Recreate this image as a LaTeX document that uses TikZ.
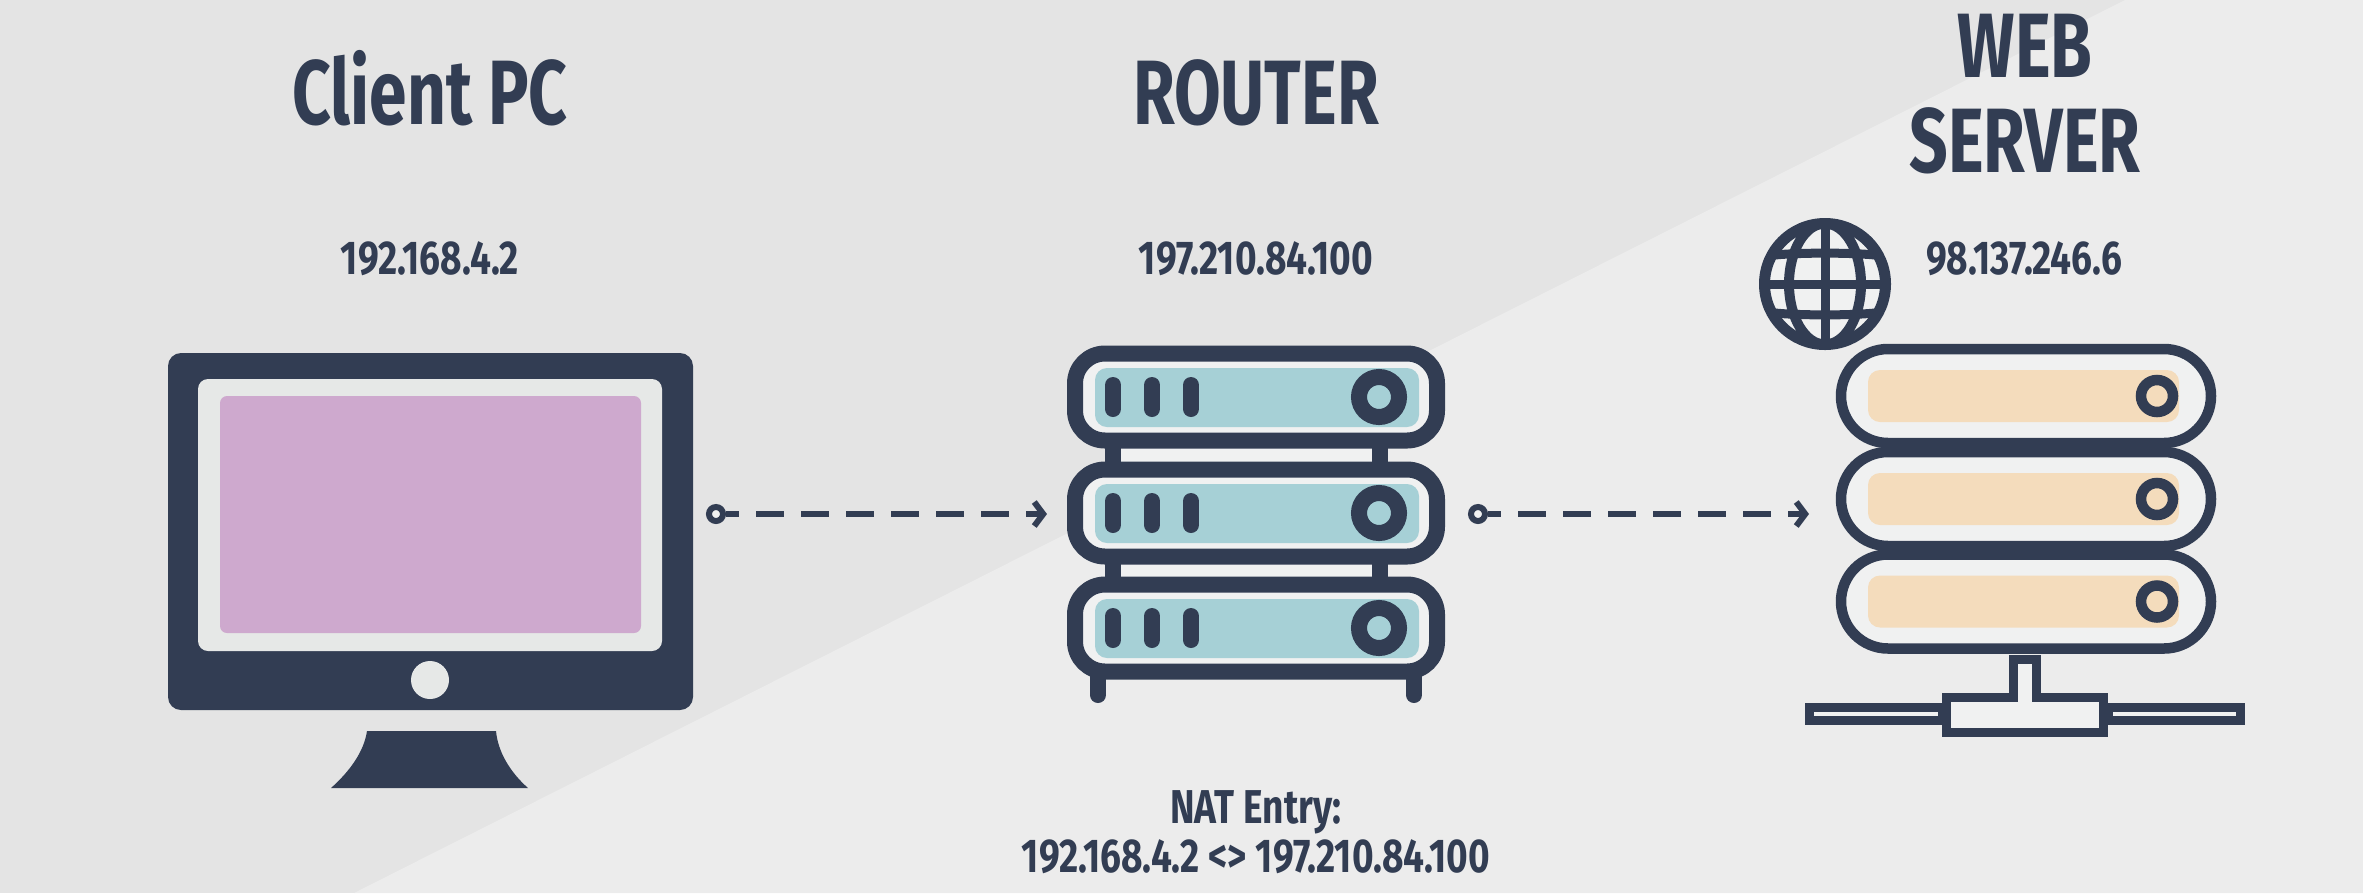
\documentclass[tikz,border=0pt]{standalone}
\usepackage{fontspec}
\usetikzlibrary{arrows.meta}
\newfontfamily\labelfont{Fira Sans}[FakeStretch=0.74]
\newfontfamily\addrfont{Fira Sans}[FakeStretch=0.78]
\definecolor{navy}{HTML}{323D53}
\definecolor{bgdark}{HTML}{E4E4E4}
\definecolor{bglight}{HTML}{ECECEC}
\definecolor{panel}{HTML}{F0F1F1}
\definecolor{bezel}{HTML}{E6E8E7}
\definecolor{teal}{HTML}{A6D0D6}
\definecolor{sand}{HTML}{F4DCBC}
\definecolor{pink}{HTML}{CEA9CE}

\begin{document}
\begin{tikzpicture}[
            x=0.01cm, y=-0.01cm,
            title/.style={font=\labelfont\bfseries\fontsize{26}{27}\selectfont, text=navy, align=center, inner sep=0pt},
            addr/.style={font=\addrfont\bfseries\fontsize{13.5}{14}\selectfont, text=navy, align=center, inner sep=0pt},
            rack/.style={draw=navy, fill=panel, line width=0.16cm, rounded corners=0.3cm},
            pod/.style={draw=navy, fill=panel, line width=0.105cm, rounded corners=0.47cm},
            lamp/.style={line width=0.16cm, line cap=round, draw=navy},
            wire/.style={draw=navy, line width=0.06cm, dash pattern=on 0.28cm off 0.17cm, dash phase=0.15cm, -{Straight Barb[length=0.09cm, width=0.24cm, line width=0.06cm]}},
            dot/.style={circle, draw=navy, fill=panel, line width=0.06cm, minimum size=0.14cm, inner sep=0pt}
        ]
            \useasboundingbox (0,0) rectangle (2363,893);
            \fill[bgdark] (0,0) rectangle (2363,893);
            \fill[bglight] (2125,0) -- (2363,0) -- (2363,893) -- (354,893) -- cycle;

            \node[title] (clientname) at (430,88) {Client PC};
            \node[title] (routername) at (1256,93) {ROUTER};
            \node[title] (servername) at (2025,94) {WEB\\SERVER};
            \node[addr] (clientip) at (430,259) {192.168.4.2};
            \node[addr] (routerip) at (1256,259) {197.210.84.100};
            \node[addr] (serverip) at (2024,259) {98.137.246.6};
            \node[addr] (natentry) at (1256,832) {NAT Entry:\\192.168.4.2 <> 197.210.84.100};

            \fill[navy, rounded corners=0.13cm] (168,353) rectangle (693,710);
            \fill[bezel, rounded corners=0.1cm] (198,379) rectangle (662,651);
            \fill[pink, rounded corners=0.07cm] (220,396) rectangle (641,633);
            \fill[bezel] (430,680) ellipse (19 and 19);
            \fill[navy] (367,731) -- (496,731) .. controls (498,752) and (510,772) .. (528,788)
                -- (331,788) .. controls (349,772) and (364,752) .. (367,731) -- cycle;

            \fill[panel] (1113,440) rectangle (1380,585);
            \draw[navy, line width=0.16cm] (1113,440) -- (1113,585);
            \draw[navy, line width=0.16cm] (1380,440) -- (1380,585);
            \draw[lamp] (1098,671) -- (1098,695);
            \draw[lamp] (1414,671) -- (1414,695);
            \foreach \y in {397,513,628} {
                \draw[rack] (1075,\y-43.5) rectangle (1437,\y+43.5);
                \fill[teal, rounded corners=0.12cm] (1095,\y-29) rectangle (1419,\y+30);
                \foreach \x in {1113,1152,1191}
                    \draw[lamp] (\x,\y-12) -- (\x,\y+12);
                \draw[navy, fill=teal, line width=0.16cm] (1379,\y) circle (20);
            }

            \foreach \y in {396,499,601.5} {
                \draw[pod] (1841,\y-47) rectangle (2211,\y+47);
                \fill[sand, rounded corners=0.12cm] (1868,\y-26) rectangle (2179,\y+26);
                \draw[navy, fill=sand, line width=0.105cm] (2157,\y) circle (16);
            }
            \draw[navy, fill=panel, line width=0.09cm] (1946.5,732.5) -- (2103.5,732.5) -- (2103.5,697)
                -- (2036,697) -- (2036,659.5) -- (2013.5,659.5) -- (2013.5,697) -- (1946.5,697) -- cycle;
            \draw[navy, fill=panel, line width=0.09cm] (1809.5,707.5) rectangle (1942,720.5);
            \draw[navy, fill=panel, line width=0.09cm] (2108,707.5) rectangle (2240.5,720.5);

            \draw[navy, fill=panel, line width=0.11cm] (1825,284) circle (60.5);
            \draw[navy, line width=0.1cm] (1825,284) ellipse (36 and 60.5);
            \draw[navy, line width=0.09cm] (1825,224) -- (1825,344);
            \draw[navy, line width=0.09cm] (1765,284) -- (1885,284);
            \draw[navy, line width=0.09cm] (1775,255) .. controls (1800,252.5) and (1850,252.5) .. (1875,255);
            \draw[navy, line width=0.09cm] (1775,313) .. controls (1800,315.5) and (1850,315.5) .. (1875,313);

            \node[dot] (clientdot) at (716,514) {};
            \node[dot] (routerdot) at (1478,514) {};
            \coordinate (routerin) at (1047,514);
            \coordinate (serverin) at (1809,514);
            \draw[wire] (clientdot) -- (routerin);
            \draw[wire] (routerdot) -- (serverin);
        \end{tikzpicture}
\end{document}
